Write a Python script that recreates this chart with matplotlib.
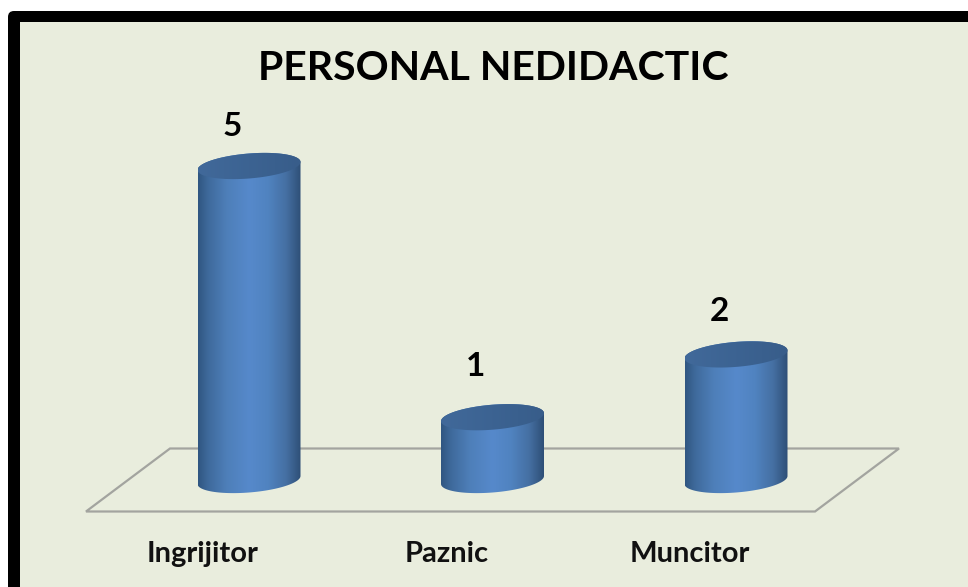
import numpy as np
from matplotlib import pyplot as plt
from matplotlib.patches import FancyBboxPatch, PathPatch, Polygon
from matplotlib.path import Path
from matplotlib.colors import LinearSegmentedColormap
from matplotlib.transforms import Affine2D

categories = ['Ingrijitor', 'Paznic', 'Muncitor']
values = [5, 1, 2]
title = 'PERSONAL NEDIDACTIC'

W, H = 968, 587
X0, DX = 249, 243.5    # pixel of first category, pixels per category
Y0, DY = 480, 62.8     # pixel of value 0, pixels per unit
RX, RY, TILT = 51.5, 12.5, 4   # cylinder ellipse, in pixels
LABEL_DY = [40, 51, 43]

body_cmap = LinearSegmentedColormap.from_list('body', [
    (0.0, '#305681'), (0.1, '#3f6a9c'), (0.28, '#4e7fb9'), (0.5, '#5689cb'),
    (0.68, '#5083c0'), (0.86, '#456fa2'), (1.0, '#2e4f77')])
top_cmap = LinearSegmentedColormap.from_list('top', ['#41699a', '#3c6392', '#385d8a'])

plt.rcParams['font.family'] = ['Lato', 'DejaVu Sans']
fig = plt.figure(figsize=(W / 100, H / 100), dpi=100, facecolor='white')
ax = fig.add_axes([0, 0, 1, 1])
ax.axis('off')
xlim = (-X0 / DX, (W - X0) / DX)
ylim = ((Y0 - H) / DY, Y0 / DY)

# figure pixels, y going down, for the frame and the floor
pix = Affine2D().scale(1, -1).translate(0, H)

ax.add_patch(FancyBboxPatch((8, 11), W + 40, H + 40, boxstyle='round,pad=0,rounding_size=6',
                            fc='black', ec='none', transform=pix, zorder=0))
ax.add_patch(Polygon([(20, 22), (W + 5, 22), (W + 5, H + 5), (20, H + 5)], fc='#e9eddd',
                     ec='none', transform=pix, zorder=1))
ax.add_patch(Polygon([(86, 511.5), (815, 511.5), (899, 448.5), (170, 448.5)], closed=True, fc='none',
                     ec='#a3a49f', lw=1.6, transform=pix, zorder=2))


def ellipse_xy(x, v, t):
    ex = x + RX / DX * np.cos(t)
    ey = v + (RY * np.sin(t) + TILT * np.cos(t)) / DY
    return ex, ey


def draw_cylinder(i, v):
    t = np.linspace(0, 2 * np.pi, 121)
    tx, ty = ellipse_xy(i, v, t)
    lo = np.linspace(np.pi, 2 * np.pi, 61)
    bx, by = ellipse_xy(i, 0, lo)
    hi = np.linspace(0, np.pi, 61)
    ux, uy = ellipse_xy(i, v, hi)
    verts = np.column_stack([np.r_[bx, ux, bx[0]], np.r_[by, uy, by[0]]])
    body = PathPatch(Path(verts), fc='none', ec='none', transform=ax.transData)
    ax.add_patch(body)
    grad = np.linspace(0, 1, 256)[None, :]
    ext = (i - RX / DX, i + RX / DX, -RY * 1.5 / DY, v + RY * 1.5 / DY)
    im = ax.imshow(grad, cmap=body_cmap, extent=ext, aspect='auto', zorder=3)
    im.set_clip_path(body)
    top = PathPatch(Path(np.column_stack([tx, ty])), fc='none', ec='none', transform=ax.transData)
    ax.add_patch(top)
    im2 = ax.imshow(grad, cmap=top_cmap, extent=ext, aspect='auto', zorder=4)
    im2.set_clip_path(top)


for i, (name, v) in enumerate(zip(categories, values)):
    draw_cylinder(i, v)
    ax.annotate(str(v), (i, v), xytext=(-17 * 0.72, LABEL_DY[i] * 0.72), textcoords='offset points',
                ha='center', va='center', fontsize=24, fontweight='bold', color='black', zorder=5)
    ax.annotate(name, (i, 0), xytext=(-46 * 0.72, -74 * 0.72), textcoords='offset points',
                ha='center', va='center', fontsize=21, fontweight='bold', color='#111111', zorder=5)

ax.text(493.5, 68, title, transform=pix, ha='center', va='center', fontsize=29.5,
        fontweight='bold', color='black', zorder=5)

ax.set_xlim(xlim)
ax.set_ylim(ylim)
fig.savefig('out.png', dpi=100)
